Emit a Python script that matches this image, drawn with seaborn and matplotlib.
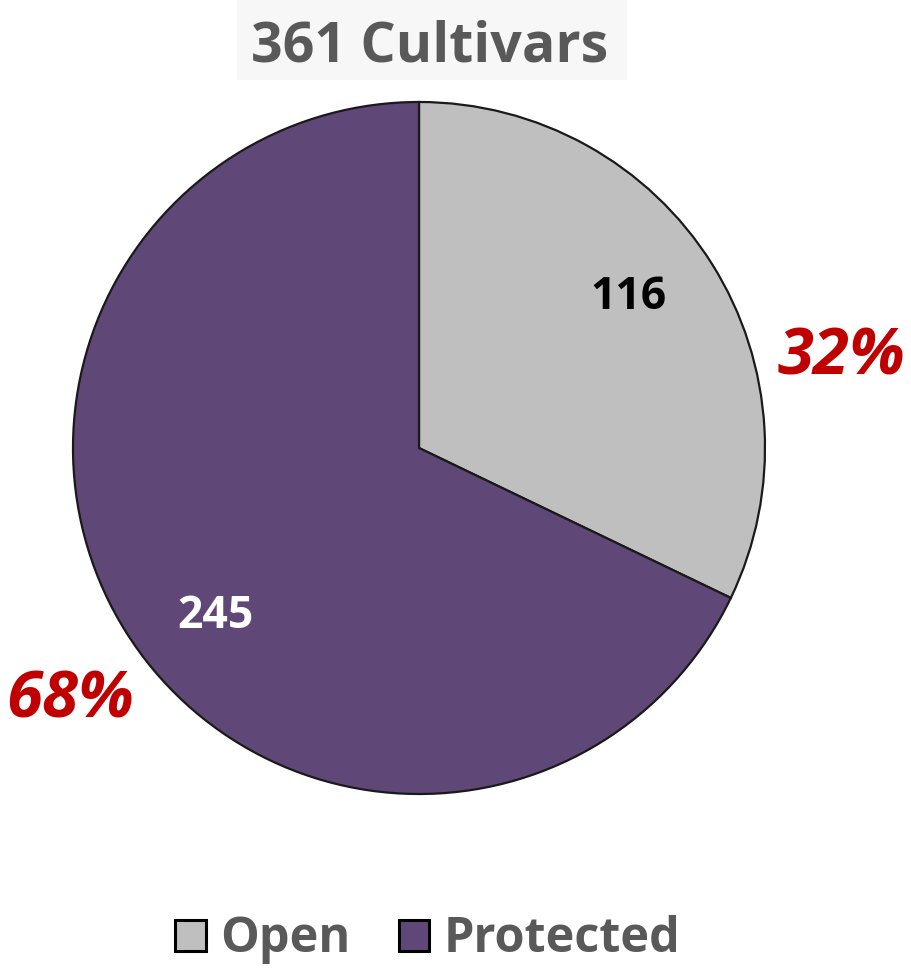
import matplotlib
matplotlib.use("Agg")
import matplotlib.pyplot as plt
import matplotlib.patches as mpatches
import seaborn as sns

categories = ["Open", "Protected"]
counts = [116, 245]
percent_labels = ["32%", "68%"]
title_text = "361 Cultivars"
colors = ["#BFBFBF", "#5F4878"]
count_colors = ["#000000", "#FFFFFF"]

sns.set_theme(style="white")
plt.rcParams['font.family'] = ['Open Sans', 'DejaVu Sans']

fig = plt.figure(figsize=(9.11, 9.68), dpi=100)
cx, cy, r = 419, 448, 346
W, H = 911, 968
ax = fig.add_axes([(cx - r) / W, (H - cy - r) / H, 2 * r / W, 2 * r / H])
ax.axis("off")

wedges, _ = ax.pie(counts, colors=colors, startangle=90, counterclock=False,
                   radius=1, wedgeprops=dict(edgecolor="#1a1a1a", linewidth=1.6))
ax.set_aspect("equal")
ax.set_xlim(-1.0, 1.0)
ax.set_ylim(-1.0, 1.0)

count_pos = [(0.605, 0.402), (-0.588, -0.520)]
pct_pos = [(1.221, 0.211), (-1.007, -0.780)]
for i in range(len(counts)):
    ax.text(*count_pos[i], str(counts[i]), ha="center", va="baseline",
            fontsize=32, fontweight="bold", color=count_colors[i])
    ax.text(*pct_pos[i], percent_labels[i], ha="center", va="baseline",
            fontsize=47, fontweight="bold", fontstyle="italic", color="#C00000",
            clip_on=False)

fig.patches.append(mpatches.Rectangle((237 / W, 1 - 80 / H), 390 / W, 80 / H,
                                      transform=fig.transFigure, facecolor="#F7F7F7",
                                      edgecolor="none", zorder=0))
fig.text(430 / W, 1 - 62 / H, title_text, ha="center", va="baseline",
         fontsize=40, fontweight="bold", color="#595959")

handles = [mpatches.Patch(facecolor=colors[i], edgecolor="#000000", linewidth=2.2,
                          label=categories[i]) for i in range(len(categories))]
leg = fig.legend(handles=handles, loc="center", bbox_to_anchor=(428 / W, 1 - 940 / H),
                 ncol=2, frameon=False, handlelength=0.62, handleheight=0.62,
                 handletextpad=0.3, columnspacing=1.0,
                 prop=dict(family="Open Sans", weight="bold", size=35))
for t in leg.get_texts():
    t.set_color("#595959")

fig.savefig("out.png", dpi=100)
